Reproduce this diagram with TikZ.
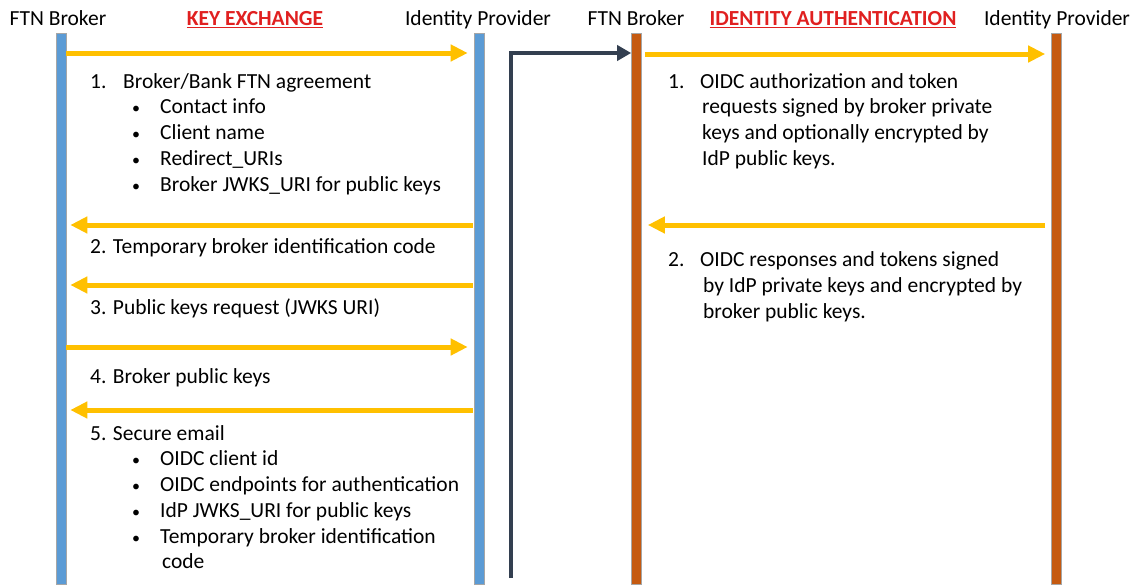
\documentclass[tikz,border=0pt]{standalone}
\usepackage{fontspec}
\setmainfont{Carlito}
\usetikzlibrary{arrows.meta}
\definecolor{barblue}{HTML}{5B9BD5}
\definecolor{barorange}{HTML}{C55A11}
\definecolor{ygold}{HTML}{FFC000}
\definecolor{slate}{HTML}{333F50}
\definecolor{hred}{HTML}{E02020}
\begin{document}
\begin{tikzpicture}[x=1pt,y=-1pt,
  every node/.style={font=\fontsize{21.5}{25}\selectfont, inner sep=0pt, text height=15pt, text depth=4pt},
  lifebar/.style={draw=gray!70, line width=0.6pt, minimum width=10pt, minimum height=551pt, anchor=north, text height=, text depth=},
  yarrow/.style={draw=ygold, line width=5pt, -{Triangle[length=17pt,width=16pt]}},
  darrow/.style={draw=slate, line width=4pt, -{Triangle[length=14pt,width=15pt]}},
  txt/.style={anchor=west},
  bul/.style={anchor=west, font=\fontsize{16}{18}\selectfont},
  hdr/.style={anchor=center},
  title/.style={anchor=center, text=hred, font=\fontsize{21.5}{25}\selectfont\bfseries}
]
\useasboundingbox (0,0) rectangle (1135,584);
% lifelines
\node[lifebar, fill=barblue] (lb) at (61,33) {};
\node[lifebar, fill=barblue] (rb) at (479,33) {};
\node[lifebar, fill=barorange] (lo) at (636.5,33) {};
\node[lifebar, fill=barorange] (ro) at (1056.5,33) {};
% headers
\node[hdr] (h1) at (58,20) {FTN Broker};
\node[title] (t1) at (255,20) {\underline{KEY EXCHANGE}};
\node[hdr] (h2) at (478,20) {Identity Provider};
\node[hdr] (h3) at (636,20) {FTN Broker};
\node[title] (t2) at (833,20) {\underline{IDENTITY AUTHENTICATION}};
\node[hdr] (h4) at (1057,20) {Identity Provider};
% transition arrow
\coordinate (ds) at (511,578);
\draw[darrow] (ds) -- (511,53) -- (lo.west |- 0,53);
% key exchange arrows
\draw[yarrow] (lb.east |- 0,53) -- ([xshift=-6pt]rb.west |- 0,53);
\draw[yarrow] ([xshift=-1pt]rb.west |- 0,225) -- ([xshift=4pt]lb.east |- 0,225);
\draw[yarrow] ([xshift=-1pt]rb.west |- 0,285) -- ([xshift=4pt]lb.east |- 0,285);
\draw[yarrow] (lb.east |- 0,347) -- ([xshift=-6pt]rb.west |- 0,347);
\draw[yarrow] ([xshift=-1pt]rb.west |- 0,410) -- ([xshift=4pt]lb.east |- 0,410);
% identity auth arrows
\draw[yarrow] ([xshift=3pt]lo.east |- 0,54) -- ([xshift=-6pt]ro.west |- 0,54);
\draw[yarrow] ([xshift=-6pt]ro.west |- 0,225) -- ([xshift=6pt]lo.east |- 0,225);
% left texts
\node[txt] (n1) at (90,83) {1.};
\node[txt] (m1) at (123,83) {Broker/Bank FTN agreement};
\node[bul] (b1) at (132,108) {•};
\node[txt] (c1) at (160,108) {Contact info};
\node[bul] (b2) at (132,134) {•};
\node[txt] (c2) at (160,134) {Client name};
\node[bul] (b3) at (132,160) {•};
\node[txt] (c3) at (160,160) {Redirect\_URIs};
\node[bul] (b4) at (132,186) {•};
\node[txt] (c4) at (160,186) {Broker JWKS\_URI for public keys};
\node[txt] (m2) at (90,248) {2. Temporary broker identification code};
\node[txt] (m3) at (90,309) {3. Public keys request (JWKS URI)};
\node[txt] (m4) at (90,378) {4. Broker public keys};
\node[txt] (m5) at (90,435) {5. Secure email};
\node[bul] (b5) at (132,460) {•};
\node[txt] (c5) at (160,460) {OIDC client id};
\node[bul] (b6) at (132,486) {•};
\node[txt] (c6) at (160,486) {OIDC endpoints for authentication};
\node[bul] (b7) at (132,512) {•};
\node[txt] (c7) at (160,512) {IdP JWKS\_URI for public keys};
\node[bul] (b8) at (132,538) {•};
\node[txt] (c8) at (160,538) {Temporary broker identification};
\node[txt] (c9) at (162,563) {code};
% right texts
\node[txt] (r1) at (668,83) {1.};
\node[txt] (r1a) at (700,83) {OIDC authorization and token};
\node[txt] (r1b) at (702,108) {requests signed by broker private};
\node[txt] (r1c) at (702,134) {keys and optionally encrypted by};
\node[txt] (r1d) at (702,160) {IdP public keys.};
\node[txt] (r2) at (668,261) {2.};
\node[txt] (r2a) at (700,261) {OIDC responses and tokens signed};
\node[txt] (r2b) at (703,287) {by IdP private keys and encrypted by};
\node[txt] (r2c) at (703,313) {broker public keys.};
\end{tikzpicture}
\end{document}
